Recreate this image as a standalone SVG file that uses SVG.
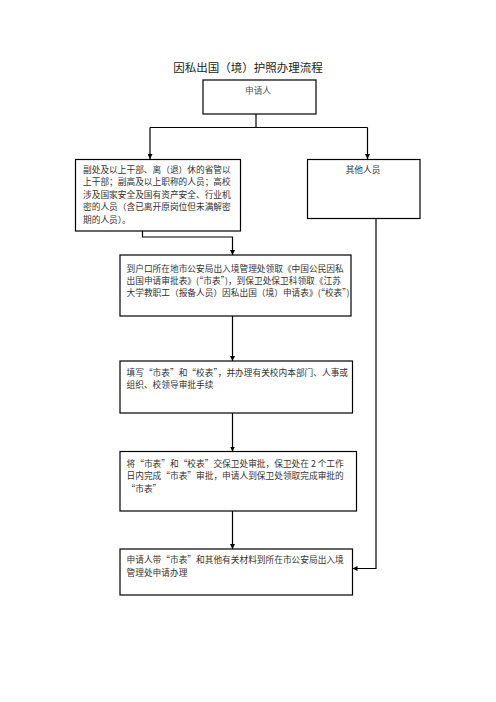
<svg xmlns="http://www.w3.org/2000/svg" width="496" height="702" viewBox="0 0 496 702">
<style>
.box{fill:#fff;stroke:#000;stroke-width:1.2}
.t{font-family:"Noto Sans CJK SC","Noto Sans CJK JP",sans-serif;font-size:8.7px;fill:#333}
.title{font-family:"Noto Sans CJK SC",sans-serif;font-size:11.5px;fill:#222}
.ln{fill:none;stroke:#000;stroke-width:1.2}
</style>
<defs>
<marker id="ah" viewBox="0 0 10 10" refX="10" refY="5" markerWidth="5" markerHeight="5" orient="auto" markerUnits="userSpaceOnUse">
<path d="M0,0L10,5L0,10z" fill="#000"/>
</marker>
</defs>
<rect width="496" height="702" fill="#fff"/>
<text class="title" x="248" y="71.5" text-anchor="middle">因私出国（境）护照办理流程</text>

<g id="connectors">
<path class="ln" d="M256,114V127.5"/>
<path class="ln" d="M150,127.5H367.5"/>
<path class="ln" d="M150,127.5V159" marker-end="url(#ah)"/>
<path class="ln" d="M367.5,127.5V159" marker-end="url(#ah)"/>
<path class="ln" d="M142.5,231V237H232.5V255" marker-end="url(#ah)"/>
<path class="ln" d="M232.5,316V361" marker-end="url(#ah)"/>
<path class="ln" d="M232.5,413V451.5" marker-end="url(#ah)"/>
<path class="ln" d="M232.5,511V549" marker-end="url(#ah)"/>
<path class="ln" d="M376,218.5V568.5H352.5" marker-end="url(#ah)"/>
</g>

<g id="n1">
<rect class="box" x="203" y="80" width="113" height="34"/>
<text class="t" x="258" y="94" text-anchor="middle" fill="#555" style="fill:#555">申请人</text>
</g>

<g id="n2">
<rect class="box" x="75.5" y="159.5" width="165" height="71.5"/>
<text class="t" x="83" y="172.5">副处及以上干部、离（退）休的省管以</text>
<text class="t" x="83" y="185">上干部；副高及以上职称的人员；高校</text>
<text class="t" x="83" y="197.5">涉及国家安全及国有资产安全、行业机</text>
<text class="t" x="83" y="210">密的人员（含已离开原岗位但未满解密</text>
<text class="t" x="83" y="222.5">期的人员）。</text>
</g>

<g id="n3">
<rect class="box" x="307.5" y="159.5" width="112.5" height="59"/>
<text class="t" x="363" y="172.5" text-anchor="middle">其他人员</text>
</g>

<g id="n4">
<rect class="box" x="120" y="255" width="231" height="61"/>
<text class="t" x="126.5" y="271.5">到户口所在地市公安局出入境管理处领取《中国公民因私</text>
<text class="t" x="126.5" y="283.8">出国申请审批表》(“市表”)，到保卫处保卫科领取《江苏</text>
<text class="t" x="126.5" y="296.1">大学教职工（报备人员）因私出国（境）申请表》(“校表”)</text>
</g>

<g id="n5">
<rect class="box" x="120" y="361" width="232.5" height="52"/>
<text class="t" x="126.5" y="376.2">填写“市表”和“校表”，并办理有关校内本部门、人事或</text>
<text class="t" x="126.5" y="388">组织、校领导审批手续</text>
</g>

<g id="n6">
<rect class="box" x="120" y="451.5" width="236.5" height="59.5"/>
<text class="t" x="126.5" y="466.8">将“市表”和“校表”交保卫处审批，保卫处在 2 个工作</text>
<text class="t" x="126.5" y="479.3">日内完成“市表”审批，申请人到保卫处领取完成审批的</text>
<text class="t" x="126.5" y="491.8">“市表”</text>
</g>

<g id="n7">
<rect class="box" x="120" y="549" width="232.5" height="46"/>
<text class="t" x="126.5" y="562.8">申请人带“市表”和其他有关材料到所在市公安局出入境</text>
<text class="t" x="126.5" y="576">管理处申请办理</text>
</g>
</svg>
